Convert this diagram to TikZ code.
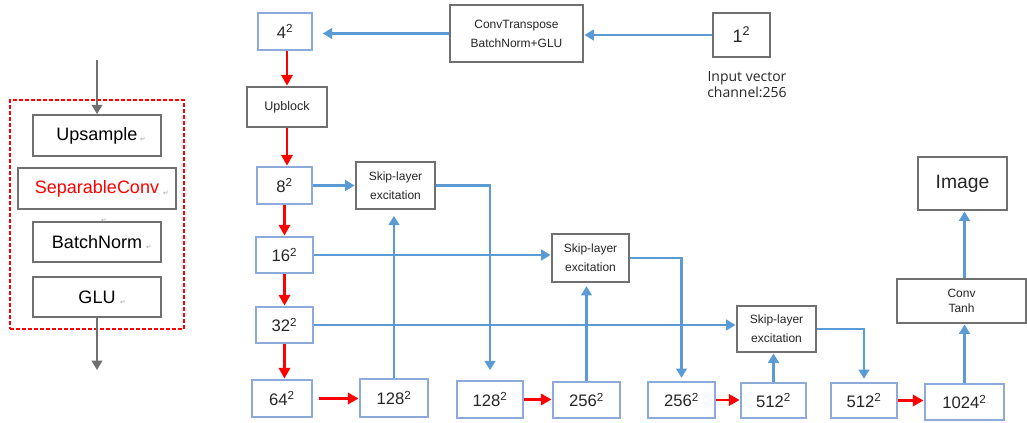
\documentclass[tikz,border=0pt]{standalone}
\usepackage{fontspec}
\setmainfont{Liberation Sans}
\newfontfamily\ofont{Open Sans}
\newfontfamily\dvfont{DejaVu Sans}
\usetikzlibrary{arrows.meta}
\definecolor{bl}{HTML}{5B9BD5}
\definecolor{bbox}{HTML}{8EAADB}
\definecolor{gbox}{HTML}{707070}
\definecolor{txt}{HTML}{262626}
\begin{document}
\begin{tikzpicture}[x=0.75pt,y=-0.75pt,
 sz/.style 2 args={minimum width=#1*0.75pt, minimum height=#2*0.75pt},
 blbox/.style={draw=bbox, line width=2.2pt, inner sep=0pt, font=\fontsize{12.5}{14}\selectfont, text=txt},
 grbox/.style={draw=gbox, line width=2.2pt, inner sep=0pt, text=txt, align=center},
 sm/.style={font=\fontsize{9}{14.25}\selectfont},
 lpbox/.style={draw=gbox, line width=1.3pt, inner sep=0pt, text=black, font=\fontsize{13.5}{16}\selectfont},
 pmark/.style={font=\dvfont\fontsize{5}{5}\selectfont, text=gray!70, inner sep=0pt},
 barrow/.style={draw=bl, line width=1.7pt, -{Triangle[length=7pt,width=8pt]}},
 rarrow/.style={draw=red, line width=1.8pt, -{Triangle[length=8pt,width=8.5pt]}},
 garrow/.style={draw=gbox, line width=1.3pt, -{Triangle[length=7pt,width=8pt]}},
]
\fill[white] (0,0) rectangle (1027,423);
\useasboundingbox (0,0) rectangle (1027,423);

% ---------- left panel ----------
\node[draw=red, dash pattern=on 3pt off 1.5pt, line width=1.2pt, inner sep=0pt, sz={174}{229}] (blk) at (97,214.5) {};
\node[lpbox, sz={128}{41}] (ups) at (97,135.5) {Upsample};
\node[lpbox, sz={158}{41}, text=red] (sep) at (97,188.5) {SeparableConv};
\node[lpbox, sz={128}{40}] (bn) at (97,242) {BatchNorm};
\node[lpbox, sz={128}{40}] (glu) at (97,297) {GLU};
\node[pmark] (m1) at (143,139) {↵};
\node[pmark] (m2) at (166,193) {↵};
\node[pmark] (m3) at (104,220) {↵};
\node[pmark] (m4) at (149,247) {↵};
\node[pmark] (m5) at (123,302) {↵};
\coordinate (ltop) at (97,60);
\coordinate (lbot) at (97,370);
\draw[garrow] (ltop) -- (ups.north);
\draw[garrow] (glu.south) -- (lbot);

% ---------- main diagram ----------
\node[blbox, sz={54}{37}] (n4) at (285,31.5) {4\textsuperscript{2}};
\node[grbox, sz={133}{57}, sm] (ct) at (516.5,33.5) {ConvTranspose\\BatchNorm+GLU};
\node[grbox, sz={57}{44}, font=\fontsize{13.5}{16}\selectfont] (n1) at (741.5,35) {1\textsuperscript{2}};
\node[align=center, font=\ofont\fontsize{10.5}{12.5}\selectfont, text=txt] (inp) at (747,84.5) {Input vector\\channel:256};
\node[grbox, sz={80}{40}, font=\fontsize{9.4}{11}\selectfont] (up) at (287,107) {Upblock};

\node[blbox, sz={55}{37}] (n8) at (284.5,185.5) {8\textsuperscript{2}};
\node[blbox, sz={57}{36}] (n16) at (284.5,255) {16\textsuperscript{2}};
\node[blbox, sz={57}{36}] (n32) at (284.5,325) {32\textsuperscript{2}};
\node[blbox, sz={60}{37}] (n64) at (282,398.5) {64\textsuperscript{2}};

\node[grbox, sz={79}{47}, sm] (s1) at (395.5,185.5) {Skip-layer\\excitation};
\node[grbox, sz={77}{48}, sm] (s2) at (590.5,258) {Skip-layer\\excitation};
\node[grbox, sz={79}{46}, sm] (s3) at (776.5,329) {Skip-layer\\excitation};

\node[blbox, sz={68}{38}] (n128a) at (394,398) {128\textsuperscript{2}};
\node[blbox, sz={66}{37}] (n128b) at (490,399.5) {128\textsuperscript{2}};
\node[blbox, sz={67}{36}] (n256a) at (586.5,400) {256\textsuperscript{2}};
\node[blbox, sz={67}{36}] (n256b) at (681.5,400) {256\textsuperscript{2}};
\node[blbox, sz={65}{35}] (n512a) at (773.5,400.5) {512\textsuperscript{2}};
\node[blbox, sz={66}{35}] (n512b) at (864,400.5) {512\textsuperscript{2}};
\node[blbox, sz={79}{36}] (n1024) at (964.5,402) {1024\textsuperscript{2}};

\node[grbox, sz={129}{44}, font=\fontsize{9}{11}\selectfont] (conv) at (961.5,301) {Conv\\Tanh};
\node[grbox, sz={89}{53}, font=\fontsize{14.5}{16}\selectfont] (img) at (962.5,183.5) {Image};

% connectors
\draw[barrow] (n1.west) -- (n1.west -| ct.east);
\draw[barrow, shorten >=7pt] (ct.west) -- (ct.west -| n4.east);
\draw[rarrow] (n4.south -| up.north) -- (up.north);
\draw[rarrow] (up.south) -- (up.south |- n8.north);
\draw[rarrow] (n8.south) -- (n16.north);
\draw[rarrow] (n16.south) -- (n32.north);
\draw[rarrow] (n32.south) -- (n32.south |- n64.north);
\draw[rarrow, shorten <=4pt] (n64.east) -- (n64.east -| n128a.west);
\draw[barrow, shorten >=4pt] (n128a.north) -- (n128a.north |- s1.south);
\draw[barrow] (n8.east) -- (n8.east -| s1.west);
\draw[barrow, shorten >=7pt] (s1.east) -| (n128b.north);
\draw[rarrow] (n128b.east) -- (n128b.east -| n256a.west);
\draw[barrow, shorten >=2pt] (n256a.north) -- (n256a.north |- s2.south);
\draw[barrow] (n16.east) -- (n16.east -| s2.west);
\draw[barrow, shorten >=2pt] (s2.east) -| (n256b.north);
\draw[rarrow] (n256b.east) -- (n256b.east -| n512a.west);
\draw[barrow] (n512a.north) -- (n512a.north |- s3.south);
\draw[barrow] (n32.east) -- (n32.east -| s3.west);
\draw[barrow, shorten >=2pt] (s3.east) -| (n512b.north);
\draw[rarrow] (n512b.east) -- (n512b.east -| n1024.west);
\draw[barrow] (n1024.north) -- (n1024.north |- conv.south);
\draw[barrow] (n1024.north |- conv.north) -- (n1024.north |- img.south);
\end{tikzpicture}
\end{document}
